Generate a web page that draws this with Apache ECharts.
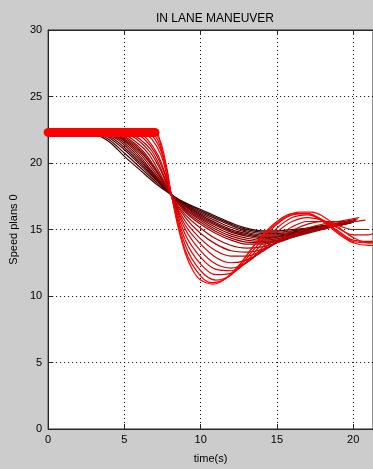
<!DOCTYPE html>
<html>
<head>
<meta charset="utf-8">
<script src="https://cdn.jsdelivr.net/npm/echarts@6/dist/echarts.min.js"></script>
<style>
  html, body { margin: 0; padding: 0; background: #cccccc; }
  #chartDiv { width: 373px; height: 469px; }
</style>
</head>
<body>
<div id="chartDiv"></div>
<script>
// 数据
const xTicks = [0, 5, 10, 15, 20];
const yTicks = [0, 5, 10, 15, 20, 25, 30];
const actualSpeed = [[0, 22.3], [7.0, 22.3]];

// speed plans, darkest (earliest) first
const plans = [
    [[2.9,22.3],[4,21.6],[5,20.5],[6,19.5],[7,18.5],[8.1,17.6],[9,17.0],[10,16.5],[11,16.0],[12,15.5],[13,15.1],[14,14.9],[15,14.9],[16,15.0],[17,15.1],[18,15.3],[19,15.4],[19.7,15.5]],
    [[3.05,22.3],[4,21.75],[5,20.75],[6,19.7],[7,18.65],[8.1,17.6],[9,16.95],[10,16.4],[11,15.9],[12,15.4],[13,15.0],[14,14.8],[15,14.8],[16,14.9],[17,15.05],[18,15.25],[19,15.4],[19.7,15.5]],
    [[3.2,22.3],[4,21.9],[5,21.0],[6,19.9],[7,18.8],[8.1,17.6],[9,16.9],[10,16.3],[11,15.8],[12,15.3],[13,14.9],[14,14.7],[15,14.7],[16,14.8],[17,15.0],[18,15.2],[19,15.4],[19.7,15.5]],
    [[3.35,22.3],[4.3,21.8],[5.3,20.85],[6.3,19.7],[7.2,18.65],[8.1,17.6],[9,16.85],[10,16.2],[11,15.65],[12,15.15],[13,14.8],[14,14.6],[15,14.6],[16,14.75],[17,14.95],[18,15.15],[19,15.35],[19.75,15.5]],
    [[3.5,22.3],[4.5,21.8],[5.5,20.8],[6.5,19.6],[7.3,18.6],[8.1,17.6],[9,16.8],[10,16.1],[11,15.5],[12,15.0],[13,14.7],[14,14.5],[15,14.5],[16,14.7],[17,14.9],[18,15.1],[19,15.3],[19.8,15.5]],
    [[3.65,22.3],[4.65,21.8],[5.65,20.8],[6.65,19.5],[7.4,18.5],[8.1,17.6],[9,16.75],[10,16.0],[11,15.4],[12,14.9],[13,14.6],[14,14.4],[15,14.45],[16,14.65],[17,14.85],[18,15.1],[19,15.3],[19.85,15.5]],
    [[3.8,22.3],[4.8,21.8],[5.8,20.8],[6.8,19.4],[8.1,17.6],[9,16.7],[10,15.9],[11,15.3],[12,14.8],[13,14.5],[14,14.3],[15,14.4],[16,14.6],[17,14.8],[18,15.1],[19,15.3],[19.9,15.5]],
    [[3.95,22.3],[4.9,21.8],[5.9,20.85],[6.9,19.45],[8.1,17.6],[9,16.6],[10,15.8],[11,15.15],[12,14.65],[13,14.35],[14,14.2],[15,14.3],[16,14.55],[17,14.8],[18,15.1],[19,15.3],[19.95,15.55]],
    [[4.1,22.3],[5,21.8],[6,20.9],[7,19.5],[8.1,17.6],[9,16.5],[10,15.7],[11,15.0],[12,14.5],[13,14.2],[14,14.1],[15,14.2],[16,14.5],[17,14.8],[18,15.1],[19,15.3],[20,15.6]],
    [[4.25,22.3],[5.15,21.8],[6.15,20.85],[7.1,19.4],[8.1,17.6],[9,16.4],[10,15.55],[11,14.85],[12,14.35],[13,14.05],[14,14.0],[15,14.15],[16,14.45],[17,14.75],[18,15.05],[19,15.3],[20.05,15.6]],
    [[4.4,22.3],[5.3,21.8],[6.3,20.8],[7.2,19.3],[8.1,17.6],[9,16.3],[10,15.4],[11,14.7],[12,14.2],[13,13.9],[14,13.9],[15,14.1],[16,14.4],[17,14.7],[18,15.0],[19,15.3],[20.1,15.6]],
    [[4.7,22.3],[5.5,21.8],[6.5,20.8],[7.3,19.3],[8.1,17.5],[9,16.1],[10,15.1],[11,14.3],[12,13.8],[13,13.6],[14,13.7],[15,14.0],[16,14.4],[17,14.8],[18,15.1],[19,15.4],[20.2,15.7]],
    [[5.0,22.3],[5.8,21.8],[6.7,20.8],[7.4,19.4],[8.1,17.5],[9,15.9],[10,14.7],[11,13.9],[12,13.4],[13,13.3],[14,13.5],[15,14.0],[16,14.5],[17,14.9],[18,15.2],[19,15.5],[20.3,15.8]],
    [[5.3,22.3],[6.0,21.8],[6.8,20.9],[7.5,19.3],[8.1,17.5],[9,15.6],[10,14.3],[11,13.4],[12,13.0],[13,13.0],[14,13.4],[15,14.0],[16,14.6],[17,15.1],[18,15.4],[19,15.6],[20.4,15.9]],
    [[5.6,22.3],[6.3,21.8],[7.0,20.8],[7.6,19.3],[8.1,17.5],[9,15.3],[10,13.9],[11,12.9],[12,12.5],[13,12.7],[14,13.3],[15,14.1],[16,14.9],[17,15.4],[18,15.6],[19,15.6],[20,15.6],[20.8,15.7]],
    [[5.9,22.3],[6.5,21.8],[7.2,20.6],[7.7,19.1],[8.1,17.5],[9,15.0],[10,13.4],[11,12.4],[12,12.1],[13,12.5],[14,13.4],[15,14.4],[16,15.2],[17,15.6],[18,15.6],[19,15.3],[20,15.0],[21,15.0]],
    [[6.2,22.3],[6.8,21.8],[7.4,20.6],[7.8,19.0],[8.1,17.5],[9,14.6],[10,12.9],[11,12.0],[12,11.9],[13,12.5],[14,13.6],[15,14.8],[16,15.6],[17,15.9],[18,15.7],[19,15.1],[20,14.6],[21,14.6],[21.5,14.8]],
    [[6.5,22.3],[7.0,21.8],[7.5,20.6],[7.8,19.4],[8.1,17.5],[9,14.2],[10,12.4],[11,11.6],[12,11.7],[13,12.6],[14,13.9],[15,15.1],[16,15.9],[17,16.1],[18,15.7],[19,14.9],[20,14.2],[21,14.1],[22,14.3]],
    [[6.8,22.3],[7.2,21.7],[7.6,20.3],[8.1,17.5],[9,13.8],[10,11.9],[11,11.2],[12,11.6],[13,12.8],[14,14.2],[15,15.4],[16,16.1],[17,16.2],[18,15.7],[19,14.8],[20,14.1],[21,14.0],[22,14.2]],
    [[7.0,22.3],[7.4,21.5],[7.8,19.5],[8.1,17.5],[9,13.4],[10,11.5],[10.8,11.0],[12,11.6],[13,13.0],[14,14.5],[15,15.6],[16,16.2],[17,16.2],[18,15.6],[19,14.7],[20,14.0],[21,13.8],[22,14.0]],
    [[7.2,22.3],[7.6,20.2],[8.1,17.5],[8.5,15.3],[9,13.2],[9.5,11.9],[10,11.2],[10.8,10.9],[11.5,11.2],[12.5,12.3],[13.5,13.8],[14.5,15.0],[15.5,15.9],[16.5,16.3],[17.3,16.3],[18,16.0],[19,15.2],[20,14.4],[21,14.0],[22,14.1]]
];

let myChart = echarts.init(document.getElementById('chartDiv'));

const font = 'Liberation Sans, Arial, sans-serif';
const axisColor = '#262626';

let series = [];
for (let i = 0; i < plans.length; i++) {
    let r = Math.round(60 + (255 - 60) * i / (plans.length - 1));
    series.push({
        type: 'line',
        data: plans[i],
        smooth: 0.35,
        symbol: 'none',
        silent: true,
        animation: false,
        lineStyle: { width: 1.2, color: 'rgb(' + r + ',0,0)' }
    });
}
series.push({
    type: 'line',
    data: actualSpeed,
    symbol: 'none',
    silent: true,
    animation: false,
    z: 5,
    lineStyle: { width: 9, color: '#ff0000', cap: 'round' }
});

let option = {
    backgroundColor: '#cccccc',
    animation: false,
    title: {
        text: 'IN LANE MANEUVER',
        left: 210,
        top: 8,
        textAlign: 'center',
        textStyle: { fontFamily: font, fontSize: 12, fontWeight: 'normal', color: '#000' }
    },
    grid: {
        left: 48, right: -2, top: 30, bottom: 38,
        show: true, backgroundColor: '#ffffff',
        borderColor: axisColor, borderWidth: 1
    },
    xAxis: [{
        type: 'value',
        min: 0, max: 21.3, interval: 5,
        name: 'time(s)',
        nameLocation: 'middle',
        nameGap: 24,
        nameTextStyle: { fontFamily: font, fontSize: 11, color: '#000' },
        axisLine: { show: true, lineStyle: { color: axisColor } },
        axisTick: { show: true, inside: true, length: 5, lineStyle: { color: axisColor } },
        axisLabel: {
            fontFamily: font, fontSize: 11, color: '#000', margin: 5,
            showMaxLabel: false,
            formatter: function (v) { return xTicks.indexOf(v) >= 0 ? String(v) : ''; }
        },
        splitLine: { show: true, lineStyle: { color: '#000', type: [1, 3], width: 1 } }
    }, {
        type: 'value',
        position: 'top',
        min: 0, max: 21.3, interval: 5,
        axisLine: { show: true, lineStyle: { color: axisColor } },
        axisTick: { show: true, inside: true, length: 5, lineStyle: { color: axisColor } },
        axisLabel: { show: false },
        splitLine: { show: false }
    }],
    yAxis: {
        type: 'value',
        min: 0, max: 30, interval: 5,
        name: 'Speed plans 0',
        nameLocation: 'middle',
        nameGap: 29,
        nameTextStyle: { fontFamily: font, fontSize: 11, color: '#000' },
        axisLine: { show: true, lineStyle: { color: axisColor } },
        axisTick: { show: true, inside: true, length: 5, lineStyle: { color: axisColor } },
        axisLabel: {
            fontFamily: font, fontSize: 11, color: '#000', margin: 6,
            formatter: function (v) { return yTicks.indexOf(v) >= 0 ? String(v) : ''; }
        },
        splitLine: { show: true, lineStyle: { color: '#000', type: [1, 3], width: 1 } }
    },
    series: series
};
myChart.setOption(option);
</script>
</body>
</html>
